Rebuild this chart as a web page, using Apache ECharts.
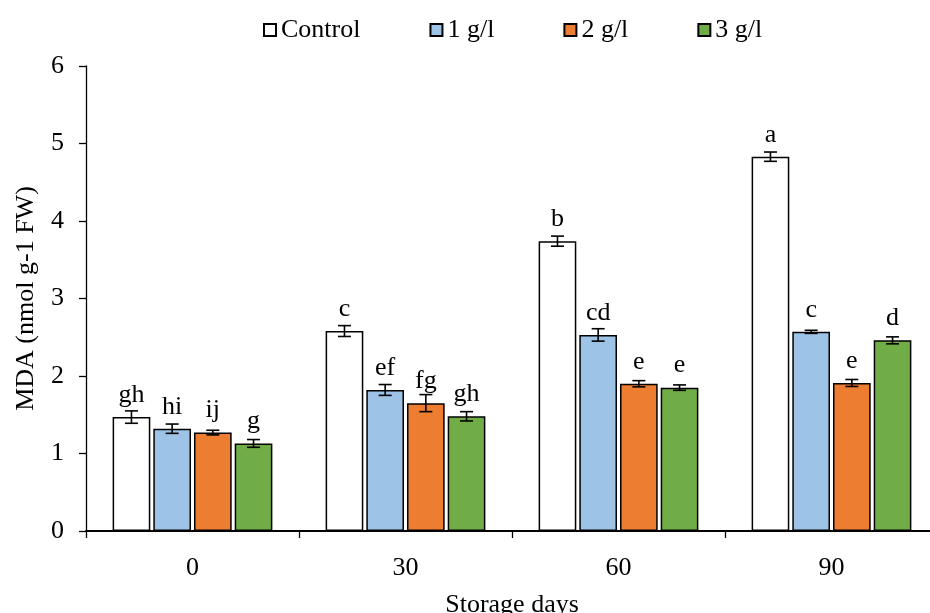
<!DOCTYPE html>
<html>
<head>
<meta charset="utf-8">
<script src="https://cdn.jsdelivr.net/npm/echarts@6/dist/echarts.min.js"></script>
<style>html,body{margin:0;padding:0;background:#fff;}#c{width:930px;height:613px;}</style>
</head>
<body>
<div id="c"></div>
<script>
const categories = ['0', '30', '60', '90'];
const seriesNames = ['Control', '1 g/l', '2 g/l', '3 g/l'];
const controlVals = [1.47, 2.58, 3.74, 4.83];
const g1Vals = [1.32, 1.82, 2.53, 2.57];
const g2Vals = [1.27, 1.65, 1.90, 1.91];
const g3Vals = [1.13, 1.48, 1.85, 2.46];
const controlErr = [0.08, 0.07, 0.065, 0.06];
const g1Err = [0.06, 0.07, 0.08, 0.02];
const g2Err = [0.03, 0.11, 0.04, 0.045];
const g3Err = [0.05, 0.06, 0.035, 0.045];
const controlLetters = ['gh', 'c', 'b', 'a'];
const g1Letters = ['hi', 'ef', 'cd', 'c'];
const g2Letters = ['ij', 'fg', 'e', 'e'];
const g3Letters = ['g', 'gh', 'e', 'd'];
const yTicks = [0, 1, 2, 3, 4, 5, 6];

const colors = ['#FFFFFF', '#9DC3E6', '#ED7D31', '#70AD47'];
const vals = [controlVals, g1Vals, g2Vals, g3Vals];
const errs = [controlErr, g1Err, g2Err, g3Err];
const letters = [controlLetters, g1Letters, g2Letters, g3Letters];

const FONT = 'Liberation Serif';
const FS = 26;
const CAT_GAP = 0.25, BAR_GAP = 0.08, N = 4;

const series = [];
vals.forEach((v, si) => {
  series.push({
    name: seriesNames[si],
    type: 'bar',
    barCategoryGap: '25%',
    barGap: '8%',
    itemStyle: { color: colors[si], borderColor: '#000', borderWidth: 1.5 },
    label: {
      show: true, position: 'top', distance: 9,
      fontFamily: FONT, fontSize: FS, color: '#000',
      formatter: p => letters[si][p.dataIndex]
    },
    data: v,
    z: 2
  });
});
vals.forEach((v, si) => {
  series.push({
    name: 'err' + si,
    type: 'custom',
    z: 5,
    data: v.map((val, i) => [i, val, errs[si][i]]),
    renderItem: function (params, api) {
      const x = api.value(0), y = api.value(1), e = api.value(2);
      const band = api.size([1, 0])[0];
      const groupW = band * (1 - CAT_GAP);
      const barW = groupW / (N + (N - 1) * BAR_GAP);
      const center = api.coord([x, y])[0];
      const cx = center - groupW / 2 + si * barW * (1 + BAR_GAP) + barW / 2;
      const top = api.coord([x, y + e])[1];
      const bot = api.coord([x, y - e])[1];
      const cap = 6.5;
      const st = { stroke: '#000', lineWidth: 1.6 };
      return {
        type: 'group',
        children: [
          { type: 'line', shape: { x1: cx, y1: top, x2: cx, y2: bot }, style: st },
          { type: 'line', shape: { x1: cx - cap, y1: top, x2: cx + cap, y2: top }, style: st },
          { type: 'line', shape: { x1: cx - cap, y1: bot, x2: cx + cap, y2: bot }, style: st }
        ]
      };
    }
  });
});

const chart = echarts.init(document.getElementById('c'), null, { renderer: 'canvas' });
chart.setOption({
  animation: false,
  backgroundColor: '#fff',
  textStyle: { fontFamily: FONT },
  legend: {
    data: seriesNames,
    left: 258, top: 12,
    itemWidth: 12, itemHeight: 12, itemGap: 69, itemTextGap: 5,
    icon: 'rect',
    textStyle: { fontFamily: FONT, fontSize: FS, color: '#000' }
  },
  grid: { left: 86, right: -8, top: 66, bottom: 82, containLabel: false, outerBoundsMode: 'none' },
  xAxis: {
    type: 'category',
    data: categories,
    name: 'Storage days',
    nameLocation: 'middle',
    nameGap: 61,
    nameTextStyle: { fontFamily: FONT, fontSize: FS, color: '#000' },
    axisLine: { lineStyle: { color: '#000', width: 1.8 } },
    axisTick: { show: true, length: 7, lineStyle: { color: '#000', width: 1.3 } },
    axisLabel: { fontFamily: FONT, fontSize: FS, color: '#000', margin: 24 }
  },
  yAxis: {
    type: 'value',
    min: yTicks[0], max: yTicks[yTicks.length - 1], interval: 1,
    name: 'MDA (nmol g-1 FW)',
    nameLocation: 'middle',
    nameGap: 47,
    nameTextStyle: { fontFamily: FONT, fontSize: FS, color: '#000' },
    axisLine: { show: true, lineStyle: { color: '#000', width: 1.3 } },
    axisTick: { show: true, length: 7, lineStyle: { color: '#000', width: 1.3 } },
    axisLabel: { fontFamily: FONT, fontSize: FS, color: '#000', margin: 22 },
    splitLine: { show: false }
  },
  series: series
});
</script>
</body>
</html>
